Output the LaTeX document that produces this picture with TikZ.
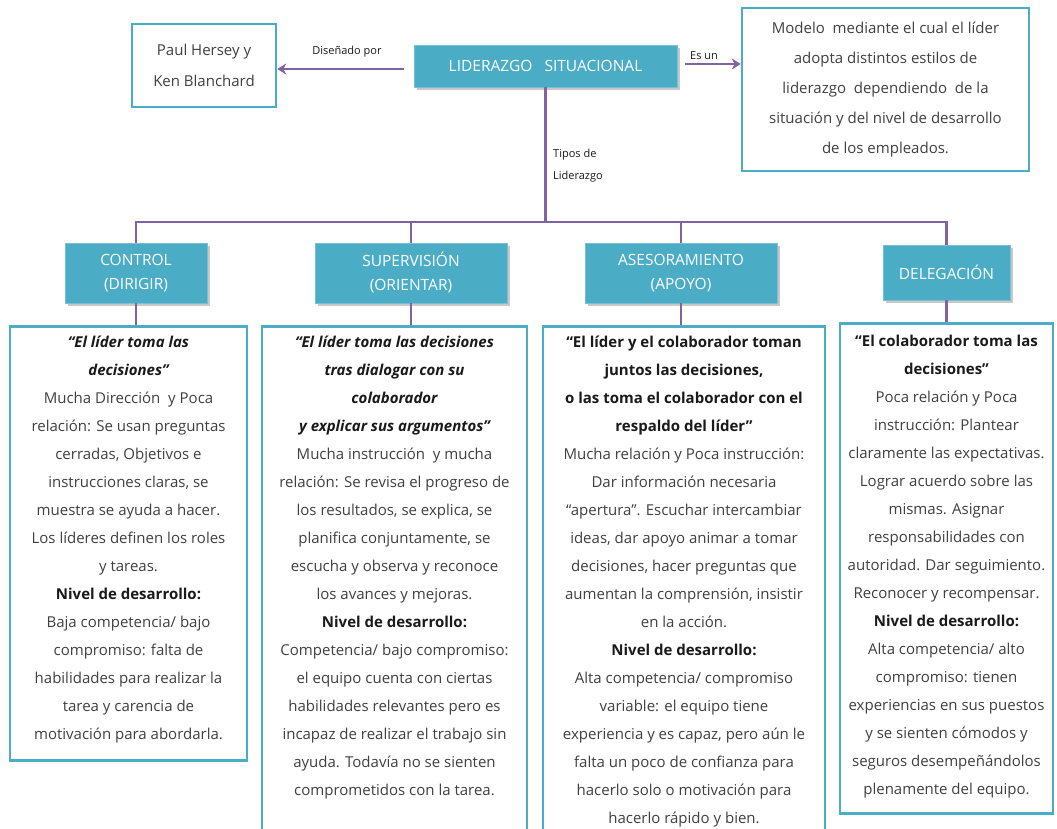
\documentclass[tikz,border=0pt]{standalone}
\usepackage{fontspec}
\setmainfont{Open Sans}
\usetikzlibrary{arrows.meta,shadows}
\definecolor{tealA}{HTML}{4BACC6}
\definecolor{purp}{HTML}{8064A2}
\definecolor{txt}{HTML}{404040}
\definecolor{dark}{HTML}{1A1A1A}
\tikzset{
  catbox/.style={fill=tealA, draw=tealA!75!white, line width=0.8pt, text=white, align=center,
    font=\fontsize{15.5}{24}\selectfont, inner sep=0pt,
    drop shadow={shadow xshift=2.5pt, shadow yshift=-3pt, opacity=0.3, fill=black!70}},
  infobox/.style={draw=tealA, line width=2.5pt, fill=white, inner sep=0pt, text=txt},
  conn/.style={draw=purp, line width=2.5pt},
  arr/.style={conn, -{Stealth[length=9pt,width=11pt]}},
  lbl/.style={font=\fontsize{11}{22}\selectfont, text=dark, inner sep=0pt},
}
\newcommand{\qt}[1]{{\color{dark}\bfseries\itshape #1}}
\newcommand{\qb}[1]{{\color{dark}\bfseries #1}}
\begin{document}
\begin{tikzpicture}[x=1pt,y=-1pt]
\clip (0,0) rectangle (1057,829);
\fill[white] (0,0) rectangle (1057,829);

% top row
\node[catbox, minimum width=263pt, minimum height=42pt, font=\fontsize{15.5}{20}\selectfont] (lid) at (545.5,66) {LIDERAZGO\ \ \ SITUACIONAL};
\node[infobox, minimum width=144pt, minimum height=83pt, align=center, font=\fontsize{15}{31}\selectfont] (paul) at (204,65.5) {Paul Hersey y\\Ken Blanchard};
\node[infobox, minimum width=287pt, minimum height=163pt, align=center, font=\fontsize{15}{30}\selectfont] (modelo) at (885.5,89.5)
  {Modelo\ \ mediante el cual el líder\\adopta distintos estilos de\\liderazgo\ \ dependiendo\ \ de la\\situación y del nivel de desarrollo\\de los empleados.};

\draw[arr, shorten <=10pt] ([yshift=-3pt]lid.west) -- ([yshift=-3pt]lid.west -| paul.east);
\draw[arr, shorten <=8pt] ([yshift=2pt]lid.east) -- ([yshift=2pt]lid.east -| modelo.west);
\node[lbl] (dis) at (347,52) {Diseñado por};
\node[lbl] (esun) at (704,56) {Es un};
\node[lbl, align=left, anchor=west] (tipos) at (553,166) {Tipos de\\Liderazgo};

% categories
\node[catbox, minimum width=142pt, minimum height=60pt] (ctrl) at (136,273) {CONTROL\\(DIRIGIR)};
\node[catbox, minimum width=192pt, minimum height=60pt] (sup) at (411,273) {SUPERVISIÓN\\(ORIENTAR)};
\node[catbox, minimum width=192pt, minimum height=60pt] (ases) at (681,273) {ASESORAMIENTO\\(APOYO)};
\node[catbox, minimum width=127pt, minimum height=55pt] (dele) at (946.5,272.5) {DELEGACIÓN};

\coordinate (bar) at (545,222);
\draw[conn] (lid.south) -- (lid.south |- bar);
\draw[conn] (ctrl.north) -- (ctrl.north |- bar) -- (dele.north |- bar) -- (dele.north);
\draw[conn] (sup.north) -- (sup.north |- bar);
\draw[conn] (ases.north) -- (ases.north |- bar);

% detail boxes
\node[infobox, anchor=north] (dctrl) at (128.5,325) {\begin{minipage}[c][434pt][t]{237pt}\centering\fontsize{15}{28}\selectfont\vspace*{10pt}
\qt{“El líder toma las}\\
\qt{decisiones”}\\
Mucha Dirección\ \ y Poca\\
relación: Se usan preguntas\\
cerradas, Objetivos e\\
instrucciones claras, se\\
muestra se ayuda a hacer.\\
Los líderes definen los roles\\
y tareas.\\
\qb{Nivel de desarrollo:}\\
Baja competencia/ bajo\\
compromiso: falta de\\
habilidades para realizar la\\
tarea y carencia de\\
motivación para abordarla.
\end{minipage}};

\node[infobox, anchor=north] (dsup) at (394.5,325) {\begin{minipage}[c][530pt][t]{265pt}\centering\fontsize{15}{28}\selectfont\vspace*{10pt}
\qt{“El líder toma las decisiones}\\
\qt{tras dialogar con su}\\
\qt{colaborador}\\
\qt{y explicar sus argumentos”}\\
Mucha instrucción\ \ y mucha\\
relación: Se revisa el progreso de\\
los resultados, se explica, se\\
planifica conjuntamente, se\\
escucha y observa y reconoce\\
los avances y mejoras.\\
\qb{Nivel de desarrollo:}\\
Competencia/ bajo compromiso:\\
el equipo cuenta con ciertas\\
habilidades relevantes pero es\\
incapaz de realizar el trabajo sin\\
ayuda. Todavía no se sienten\\
comprometidos con la tarea.
\end{minipage}};

\node[infobox, anchor=north] (dases) at (684,325) {\begin{minipage}[c][530pt][t]{282pt}\centering\fontsize{15}{28}\selectfont\vspace*{10pt}
\qb{“El líder y el colaborador toman}\\
\qb{juntos las decisiones,}\\
\qb{o las toma el colaborador con el}\\
\qb{respaldo del líder”}\\
Mucha relación y Poca instrucción:\\
Dar información necesaria\\
“apertura”. Escuchar intercambiar\\
ideas, dar apoyo animar a tomar\\
decisiones, hacer preguntas que\\
aumentan la comprensión, insistir\\
en la acción.\\
\qb{Nivel de desarrollo:}\\
Alta competencia/ compromiso\\
variable: el equipo tiene\\
experiencia y es capaz, pero aún le\\
falta un poco de confianza para\\
hacerlo solo o motivación para\\
hacerlo rápido y bien.
\end{minipage}};

\node[infobox, anchor=north] (ddel) at (946.5,322) {\begin{minipage}[c][490pt][t]{213pt}\centering\fontsize{15}{28}\selectfont\vspace*{12pt}
\qb{“El colaborador toma las}\\
\qb{decisiones”}\\
Poca relación y Poca\\
instrucción: Plantear\\
claramente las expectativas.\\
Lograr acuerdo sobre las\\
mismas. Asignar\\
responsabilidades con\\
autoridad. Dar seguimiento.\\
Reconocer y recompensar.\\
\qb{Nivel de desarrollo:}\\
Alta competencia/ alto\\
compromiso: tienen\\
experiencias en sus puestos\\
y se sienten cómodos y\\
seguros desempeñándolos\\
plenamente del equipo.
\end{minipage}};

\draw[conn] (ctrl.south) -- (ctrl.south |- dctrl.north);
\draw[conn] (sup.south) -- (sup.south |- dsup.north);
\draw[conn] (ases.south) -- (ases.south |- dases.north);
\draw[conn] (dele.south) -- (dele.south |- ddel.north);
\end{tikzpicture}
\end{document}
